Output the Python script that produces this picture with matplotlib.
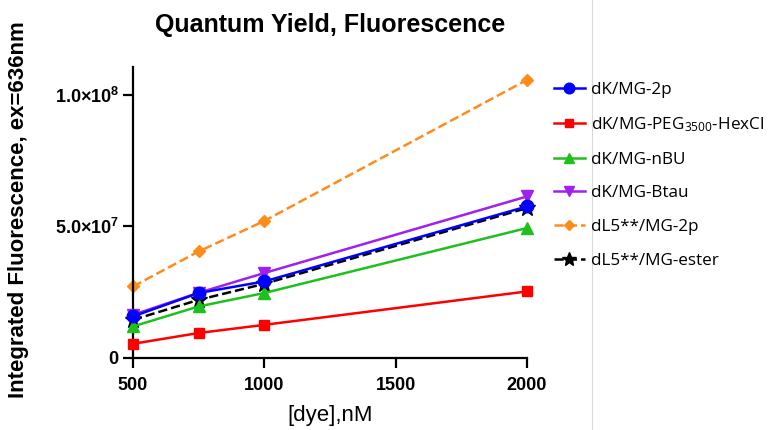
import matplotlib
matplotlib.use("Agg")
import matplotlib.pyplot as plt
from matplotlib.ticker import FixedLocator, FixedFormatter

# Data
dye_nM = [500, 750, 1000, 2000]
dK_MG_2p = [15.8e6, 24.7e6, 29.1e6, 57.6e6]
dK_MG_PEG_HexCl = [5.4e6, 9.5e6, 12.6e6, 25.3e6]
dK_MG_nBU = [12.0e6, 19.6e6, 24.7e6, 49.4e6]
dK_MG_Btau = [16.4e6, 24.8e6, 32.3e6, 61.4e6]
dL5_MG_2p = [27.2e6, 40.5e6, 52.1e6, 105.7e6]
dL5_MG_ester = [14.5e6, 22.1e6, 28.2e6, 57.0e6]

series_labels = ["dK/MG-2p", "dK/MG-PEG$_{3500}$-HexCl", "dK/MG-nBU",
                 "dK/MG-Btau", "dL5**/MG-2p", "dL5**/MG-ester"]
yticks = [0, 5e7, 1e8]
ytick_labels = [r"$\mathbf{0}$", r"$\mathbf{5.0{\times}10^{7}}$", r"$\mathbf{1.0{\times}10^{8}}$"]
xticks = [500, 1000, 1500, 2000]

plt.rcParams['mathtext.fontset'] = 'custom'
plt.rcParams['mathtext.rm'] = 'Open Sans'
plt.rcParams['mathtext.it'] = 'Open Sans'
plt.rcParams['mathtext.bf'] = 'Liberation Sans:bold'

fig = plt.figure(figsize=(7.77, 4.30), dpi=100)
ax = fig.add_axes([133/777, 1 - 358/430, (527-133)/777, (358-67)/430])

specs = [
    (dL5_MG_2p, "#ff8c1a", "D", "--", 6.5, 1),
    (dL5_MG_ester, "black", "*", "--", 12, 2),
    (dK_MG_PEG_HexCl, "#ff0000", "s", "-", 7.5, 3),
    (dK_MG_nBU, "#1ec01e", "^", "-", 8.5, 4),
    (dK_MG_Btau, "#a020f0", "v", "-", 8.5, 5),
    (dK_MG_2p, "#0000ff", "o", "-", 9, 6),
]
handles = {}
for vals, c, m, ls, ms, z in specs:
    h, = ax.plot(dye_nM, vals, color=c, marker=m, linestyle=ls, lw=1.8,
                 markersize=ms, clip_on=False, zorder=z)
    handles[id(vals)] = h

ax.set_xlim(500, 2000)
ax.set_ylim(0, 1.106e8)
ax.spines['top'].set_visible(False)
ax.spines['right'].set_visible(False)
for s in ['left', 'bottom']:
    ax.spines[s].set_linewidth(1.6)
ax.xaxis.set_major_locator(FixedLocator(xticks))
ax.yaxis.set_major_locator(FixedLocator(yticks))
ax.yaxis.set_major_formatter(FixedFormatter(ytick_labels))
ax.tick_params(width=1.6, length=7, labelsize=13)
ax.tick_params(axis='x', pad=7)
ax.tick_params(axis='y', pad=3)
for lab in ax.get_xticklabels() + ax.get_yticklabels():
    lab.set_family(['Liberation Sans', 'DejaVu Sans'])
    lab.set_fontweight('bold')

fig.text(330/777, 1 - 416/430, "[dye],nM", ha='center', va='center',
         fontsize=16, family='Liberation Sans')
fig.text(19/777, 1 - 210/430, "Integrated Fluorescence, ex=636nm", rotation=90,
         ha='center', va='center', fontsize=16, fontweight='bold',
         family='Liberation Sans')
fig.text(330/777, 1 - 25/430, "Quantum Yield, Fluorescence", ha='center', va='center',
         fontsize=18, fontweight='bold', family='Liberation Sans')

# separator line
fig.add_artist(plt.Line2D([592/777, 592/777], [0, 1], color="#d9d9d9", lw=0.8))

order = [dK_MG_2p, dK_MG_PEG_HexCl, dK_MG_nBU, dK_MG_Btau, dL5_MG_2p, dL5_MG_ester]
leg = fig.legend([handles[id(v)] for v in order], series_labels,
                 loc='upper left', bbox_to_anchor=(547/777, 1 - 75/430),
                 frameon=False, prop={'family': 'Open Sans', 'size': 12.3},
                 handlelength=1.8, handletextpad=0.4, labelspacing=1.03,
                 borderaxespad=0, markerscale=0.85)

fig.savefig("out.png", dpi=100)
